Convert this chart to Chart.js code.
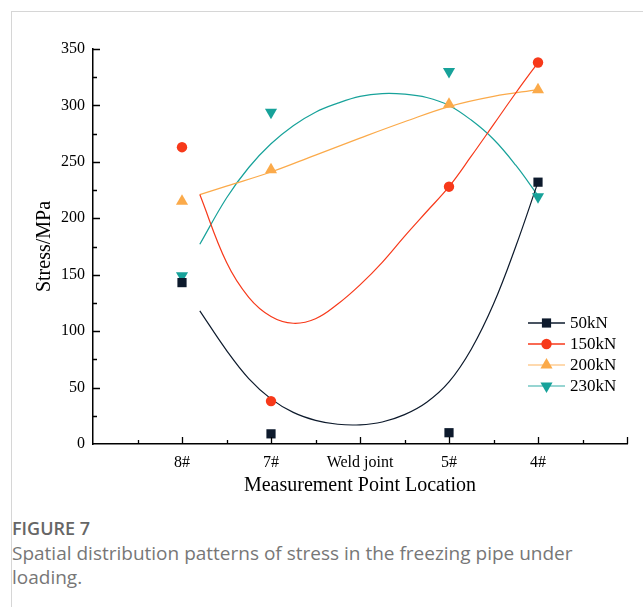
<!DOCTYPE html>
<html>
<head>
<meta charset="utf-8">
<script src="https://cdn.jsdelivr.net/npm/chart.js@4/dist/chart.umd.min.js"></script>
<style>
  body { margin:0; background:#fff; }
  #wrap { position:relative; width:643px; height:607px; overflow:hidden; }
  #frame { position:absolute; left:11px; top:11px; width:640px; height:600px; border-left:1px solid #d6d6d6; border-top:1px solid #d6d6d6; }
  #chartBox { position:absolute; left:0; top:0; width:643px; height:500px; }
  .cap { position:absolute; left:12px; font-family:"Open Sans", "Noto Sans", sans-serif; color:#777; }
  #figno { top:516px; font-size:18px; line-height:24px; font-weight:600; color:#666; }
  #figtxt { top:541px; font-size:19px; line-height:24px; width:600px; }
</style>
</head>
<body>
<div id="wrap">
  <div id="frame"></div>
  <div id="chartBox"><canvas id="stressChart" width="643" height="500"></canvas></div>
  <div class="cap" id="figno">FIGURE 7</div>
  <div class="cap" id="figtxt">Spatial distribution patterns of stress in the freezing pipe under loading.</div>
</div>
<script>
// measurement points (x index on axis)
var locations = ["8#", "7#", "Weld joint", "5#", "4#"];
var pointX = [1, 2, 4, 5];
var seriesNames = ["50kN", "150kN", "200kN", "230kN"];

// measured stress (MPa)
var s50  = [143, 9, 10, 232];
var s150 = [263, 38, 228, 338];
var s200 = [215, 243, 301, 314];
var s230 = [149, 294, 330, 219];

// fitted curves
var fit50x  = [1.2, 1.5, 1.75, 2.0, 2.25, 2.5, 2.75, 3.0, 3.25, 3.5, 3.75, 4.0, 4.25, 4.5, 4.75, 5.0];
var fit50y  = [118, 83, 58, 40, 28, 21, 17.5, 17, 19.5, 26, 37, 55, 84, 124, 175, 232];
var fit150x = [1.2, 1.5, 1.75, 2.0, 2.25, 2.5, 2.75, 3.0, 3.25, 3.5, 3.75, 4.0, 4.25, 4.5, 4.75, 5.0];
var fit150y = [221, 161, 130, 113, 107, 111, 124, 141, 161, 184, 206, 228, 255, 283, 311, 338];
var fit200x = [1.2, 1.5, 2.0, 2.5, 3.0, 3.5, 4.0, 4.5, 5.0];
var fit200y = [221, 228.5, 241, 256, 271, 285.5, 299, 308, 314];
var fit230x = [1.2, 1.5, 1.75, 2.0, 2.25, 2.5, 2.75, 3.0, 3.25, 3.5, 3.75, 4.0, 4.25, 4.5, 4.75, 5.0];
var fit230y = [177, 218, 245, 266, 282, 294, 302, 308, 310.5, 310, 307, 300, 287, 270, 247, 220];

var colors = ["#0d1a2c", "#f7391a", "#fbaa4a", "#17a29a"];
var legendLine = ["#0d1a2c", "#f7391a", "rgba(251,170,74,0.6)", "rgba(23,162,154,0.6)"];
var styles = ["rect", "circle", "triangle", "triangle"];
var rotations = [0, 0, 0, 180];
var radii = [6.5, 5.2, 7, 7];

function toXY(xs, ys) {
    var out = [];
    for (var i = 0; i < xs.length; i++) out.push({x: xs[i], y: ys[i]});
    return out;
}

var measured = [s50, s150, s200, s230];
var fitsX = [fit50x, fit150x, fit200x, fit230x];
var fitsY = [fit50y, fit150y, fit200y, fit230y];

var datasets = [];
for (var i = 0; i < 4; i++) {
    datasets.push({
        label: seriesNames[i],
        data: toXY(pointX, measured[i]),
        showLine: false,
        pointStyle: styles[i],
        rotation: rotations[i],
        pointRadius: radii[i],
        pointHoverRadius: radii[i],
        backgroundColor: colors[i],
        borderColor: colors[i],
        pointBorderWidth: 0,
        order: 0
    });
}
for (var i = 0; i < 4; i++) {
    datasets.push({
        label: seriesNames[i] + " fit",
        type: "line",
        data: toXY(fitsX[i], fitsY[i]),
        borderColor: colors[i],
        borderWidth: 1.2,
        pointRadius: 0,
        fill: false,
        tension: 0.4,
        order: 1
    });
}

function drawMarker(ctx, style, rot, r, x, y, color) {
    ctx.save();
    ctx.fillStyle = color;
    ctx.translate(x, y);
    ctx.rotate(rot * Math.PI / 180);
    ctx.beginPath();
    if (style == "rect") {
        var s = r * Math.SQRT1_2;
        ctx.rect(-s, -s, 2 * s, 2 * s);
    } else if (style == "circle") {
        ctx.arc(0, 0, r, 0, Math.PI * 2);
    } else {
        ctx.moveTo(0, -r);
        ctx.lineTo(r * 0.866, r * 0.5);
        ctx.lineTo(-r * 0.866, r * 0.5);
        ctx.closePath();
    }
    ctx.fill();
    ctx.restore();
}

var axisExtras = {
    id: "axisExtras",
    afterDraw: function(chart) {
        var ctx = chart.ctx;
        var xs = chart.scales.x, ys = chart.scales.y;
        var area = chart.chartArea;
        ctx.save();
        ctx.strokeStyle = "#000";
        ctx.lineWidth = 1.3;
        ctx.beginPath();
        // x ticks, inward
        for (var v = 0.5; v <= 6; v += 0.5) {
            var px = Math.round(xs.getPixelForValue(v)) + 0.5;
            var len = (v % 1 == 0) ? 7 : 4;
            ctx.moveTo(px, area.bottom);
            ctx.lineTo(px, area.bottom - len);
        }
        // y ticks, inward
        for (var t = 25; t <= 350; t += 25) {
            var py = Math.round(ys.getPixelForValue(t)) + 0.5;
            var l2 = (t % 50 == 0) ? 7 : 4;
            ctx.moveTo(area.left, py);
            ctx.lineTo(area.left + l2, py);
        }
        ctx.stroke();

        // legend
        var lx = 528, ly = 323;
        ctx.font = "17px 'Liberation Serif', 'Times New Roman', serif";
        ctx.textBaseline = "middle";
        for (var i = 0; i < 4; i++) {
            var yy = ly + i * 21;
            ctx.strokeStyle = legendLine[i];
            ctx.lineWidth = 1.5;
            ctx.beginPath();
            ctx.moveTo(lx, yy);
            ctx.lineTo(lx + 37, yy);
            ctx.stroke();
            drawMarker(ctx, styles[i], rotations[i], radii[i], lx + 18.5, yy, colors[i]);
            ctx.fillStyle = "#000";
            ctx.fillText(seriesNames[i], lx + 42, yy + 1);
        }
        ctx.restore();
    }
};

var ctx = document.getElementById("stressChart");
var stressChart = new Chart(ctx, {
    type: "scatter",
    data: { datasets: datasets },
    options: {
        responsive: false,
        animation: false,
        layout: { padding: { top: 49, right: 16, left: 0, bottom: 0 } },
        plugins: { legend: { display: false }, tooltip: { enabled: false } },
        scales: {
            x: {
                type: "linear",
                min: 0, max: 6,
                grid: { display: false, drawTicks: false },
                border: { display: true, color: "#000", width: 1.5 },
                ticks: {
                    stepSize: 1,
                    padding: 9,
                    color: "#000",
                    font: { family: "'Liberation Serif', 'Times New Roman', serif", size: 16 },
                    callback: function(v) { return locations[v - 1] || ""; }
                },
                title: {
                    display: true,
                    text: "Measurement Point Location",
                    color: "#000",
                    font: { family: "'Liberation Serif', 'Times New Roman', serif", size: 20 },
                    padding: { top: 0, bottom: 2 }
                },
                afterFit: function(scale) { scale.height = 56; }
            },
            y: {
                min: 0, max: 350,
                grid: { display: false, drawTicks: false },
                border: { display: true, color: "#000", width: 1.5 },
                ticks: {
                    stepSize: 50,
                    padding: 8,
                    color: "#000",
                    font: { family: "'Liberation Serif', 'Times New Roman', serif", size: 16 }
                },
                title: {
                    display: true,
                    text: "Stress/MPa",
                    color: "#000",
                    font: { family: "'Liberation Serif', 'Times New Roman', serif", size: 20 },
                    padding: { top: 33, bottom: 0 }
                },
                afterFit: function(scale) { scale.width = 93; }
            }
        }
    },
    plugins: [axisExtras]
});
</script>
</body>
</html>
